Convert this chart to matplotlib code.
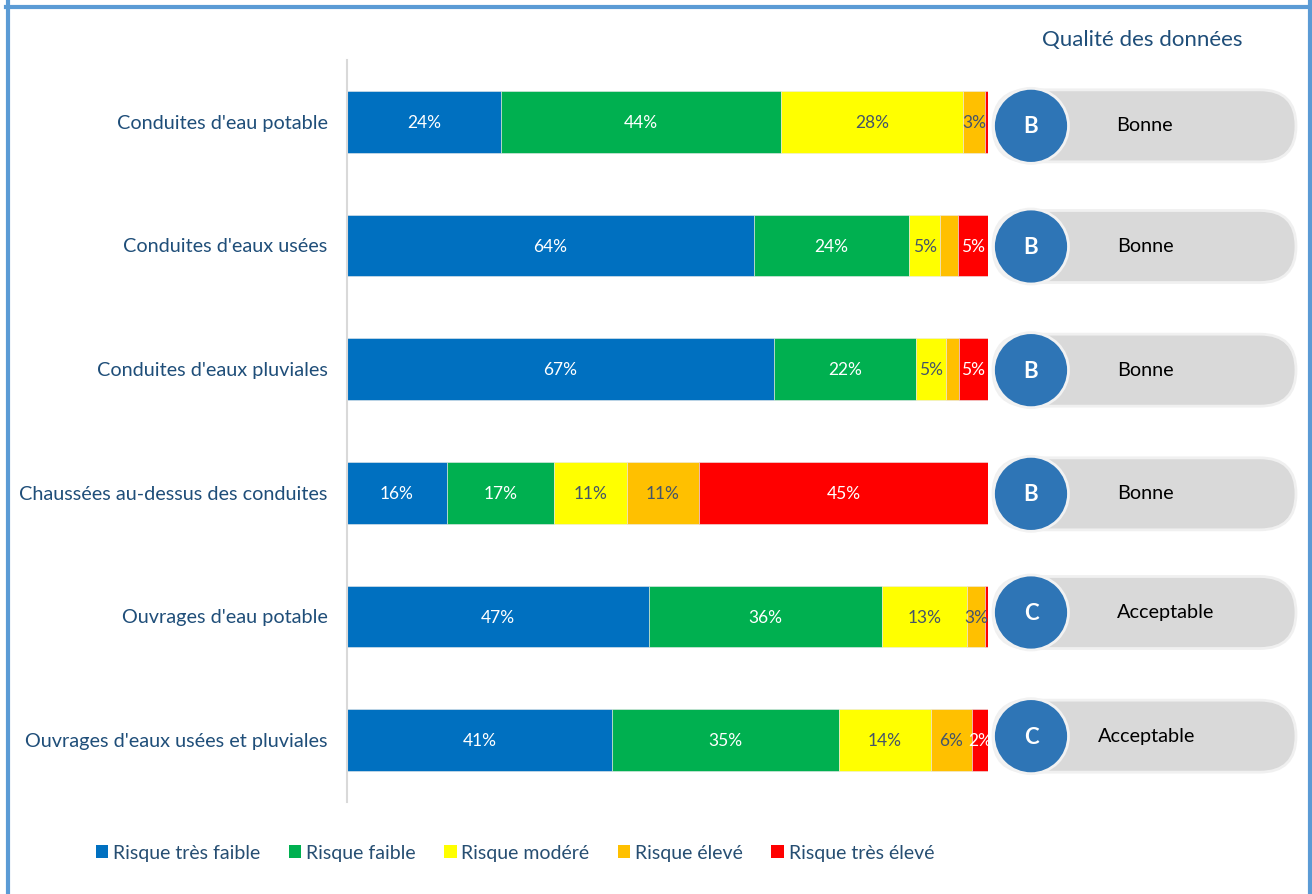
import matplotlib
matplotlib.use("Agg")
import matplotlib.pyplot as plt
from matplotlib.patches import Patch, FancyBboxPatch, Circle
from matplotlib.lines import Line2D

plt.rcParams['font.family'] = ['Lato', 'DejaVu Sans']

# --- Data ---
categories = [
    "Conduites d'eau potable",
    "Conduites d'eaux usées",
    "Conduites d'eaux pluviales",
    "Chaussées au-dessus des conduites",
    "Ouvrages d'eau potable",
    "Ouvrages d'eaux usées et pluviales",
]
series_names = ["Risque très faible", "Risque faible", "Risque modéré",
                "Risque élevé", "Risque très élevé"]
tres_faible = [24.1, 63.5, 66.6, 15.6, 47.1, 41.3]
faible = [43.6, 24.2, 22.2, 16.7, 36.4, 35.4]
modere = [28.4, 4.8, 4.7, 11.4, 13.3, 14.4]
eleve = [3.4, 2.8, 1.9, 11.2, 2.8, 6.4]
tres_eleve = [0.5, 4.7, 4.6, 45.1, 0.4, 2.5]
# labels removed in the source chart: (row, series)
hidden_labels = {(0, 4), (1, 3), (2, 3), (4, 4)}

quality_letters = ["B", "B", "B", "B", "C", "C"]
quality_text = ["Bonne", "Bonne", "Bonne", "Bonne", "Acceptable", "Acceptable"]

# --- Style ---
colors = ['#0070C0', '#00B050', '#FFFF00', '#FFC000', '#FF0000']
label_colors = ['white', 'white', '#44546A', '#44546A', 'white']
text_blue = '#1F4E79'
W, H = 1312, 894

fig = plt.figure(figsize=(W / 100, H / 100), dpi=100)
ax = fig.add_axes([347 / W, 1 - 802 / H, (988 - 347) / W, 742 / H])

series = [tres_faible, faible, modere, eleve, tres_eleve]
rows = list(range(len(categories)))
left = [0.0] * len(categories)
for s, vals in enumerate(series):
    ax.barh(rows, vals, left=left, height=0.5, color=colors[s],
            edgecolor='#EAEAEA', linewidth=0.4, label=series_names[s])
    for r, v in enumerate(vals):
        if (r, s) not in hidden_labels:
            ax.text(left[r] + v / 2, r + 0.01, f"{round(v)}%", ha='center',
                    va='center', fontsize=12.5, color=label_colors[s])
    left = [a + b for a, b in zip(left, vals)]

ax.set_xlim(0, 100)
ax.set_ylim(len(categories) - 0.5, -0.5)
ax.set_yticks(rows)
ax.set_yticklabels(categories, fontsize=14.3, color=text_blue)
ax.tick_params(axis='y', length=0, pad=14)
ax.set_xticks([])
for side in ['top', 'right', 'bottom']:
    ax.spines[side].set_visible(False)
ax.spines['left'].set_color('#D9D9D9')
ax.spines['left'].set_linewidth(1.5)

# --- Overlay in pixel coordinates for badges and frame ---
ov = fig.add_axes([0, 0, 1, 1], zorder=5)
ov.set_xlim(0, W)
ov.set_ylim(H, 0)
ov.axis('off')

badge_dy = [4, 1, 1, 1, -4, -4]
text_x = [1144, 1145, 1145, 1145, 1166, 1147]
for r in rows:
    yc = H - ax.transData.transform((0, r))[1] + badge_dy[r]
    pill = FancyBboxPatch((993, yc - 36), 303, 72,
                          boxstyle="round,pad=0,rounding_size=36",
                          fc='#D9D9D9', ec='#F0F0F0', lw=2)
    ov.add_patch(pill)
    ov.add_patch(Circle((1031, yc), 37.5, fc='#2E75B6', ec='#F2F2F2', lw=2))
    ov.text(1031, yc + 1, quality_letters[r], ha='center', va='center',
            fontsize=16, fontweight='bold', color='white')
    ov.text(text_x[r], yc, quality_text[r], ha='center', va='center',
            fontsize=14.3, color='black')

ov.text(1142, 40, "Qualité des données", ha='center', va='center',
        fontsize=16, color=text_blue)

frame_color = '#5B9BD5'
ov.add_line(Line2D([8, 8], [0, H], color=frame_color, lw=3))
ov.add_line(Line2D([6, W], [7, 7], color=frame_color, lw=3))
ov.add_line(Line2D([1310, 1310], [0, H], color=frame_color, lw=3))

# --- Legend ---
handles = [Patch(facecolor=c, edgecolor='none') for c in colors]
leg = fig.legend(handles, series_names, loc='center',
                 bbox_to_anchor=(515 / W, 1 - 853 / H), ncol=5, frameon=False,
                 fontsize=14, handlelength=0.65, handleheight=0.65,
                 handletextpad=0.25, columnspacing=1.45)
for t in leg.get_texts():
    t.set_color('#264E72')

fig.savefig("out.png", dpi=100)
